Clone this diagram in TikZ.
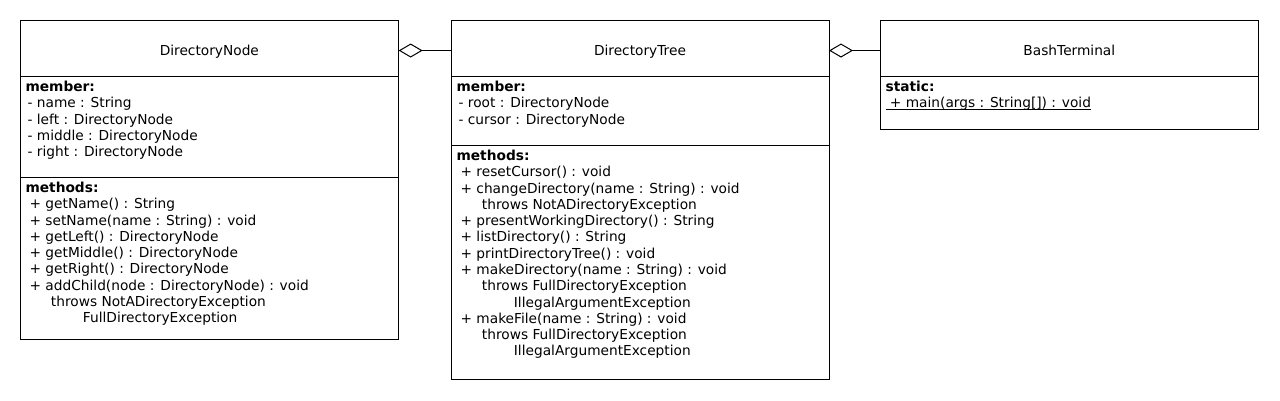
\documentclass[tikz,border=0pt]{standalone}
\usepackage{fontspec}
\setmainfont{DejaVu Sans}
\usetikzlibrary{positioning, arrows.meta}

\tikzset{
  cls/.style={draw, line width=0.75pt, inner sep=0pt, outer sep=0pt,
              minimum width=#1},
  cls/.default=284pt,
  listtxt/.style={inner sep=0pt, anchor=north west, align=left,
                  font=\fontsize{10.3}{12.2}\selectfont},
  titletxt/.style={font=\fontsize{10.3}{12}\selectfont,
                   text height=10.5pt, text depth=0pt},
  aggr/.style={line width=0.75pt,
               -{Diamond[open, length=18pt, width=10.5pt, line width=0.75pt]}}
}
\newcommand{\ind}[1]{\hspace*{#1pt}}
\newcommand{\statul}[1]{\setbox0\hbox{#1}\rlap{\rule[-1.4pt]{\wd0}{0.5pt}}\box0}

\begin{document}
\begin{tikzpicture}[x=0.75pt, y=-0.75pt]
\useasboundingbox (0,0) rectangle (1280,400);

% DirectoryNode
\node[cls, minimum height=42pt, anchor=north west, titletxt] (nodetitle) at (20,20) {DirectoryNode};
\node[cls, minimum height=75.75pt, anchor=north west] (nodemem) at (nodetitle.south west) {};
\node[cls, minimum height=121.5pt, anchor=north west] (nodemeth) at (nodemem.south west) {};
\node[listtxt] (nodememtxt) at ([xshift=4pt, yshift=-3.7pt]nodemem.north west)
  {\textbf{member:}\\
   \ind{1.5}- name : String\\
   \ind{1.5}- left : DirectoryNode\\
   \ind{1.5}- middle : DirectoryNode\\
   \ind{1.5}- right : DirectoryNode};
\node[listtxt] (nodemethtxt) at ([xshift=4pt, yshift=-3.7pt]nodemeth.north west)
  {\textbf{methods:}\\
   \ind{3}+ getName() : String\\
   \ind{3}+ setName(name : String) : void\\
   \ind{3}+ getLeft() : DirectoryNode\\
   \ind{3}+ getMiddle() : DirectoryNode\\
   \ind{3}+ getRight() : DirectoryNode\\
   \ind{3}+ addChild(node : DirectoryNode) : void\\
   \ind{19}throws NotADirectoryException\\
   \ind{43}FullDirectoryException};

% DirectoryTree
\node[cls=283.5pt, minimum height=42pt, anchor=north west, titletxt] (treetitle) at (451,20) {DirectoryTree};
\node[cls=283.5pt, minimum height=51.75pt, anchor=north west] (treemem) at (treetitle.south west) {};
\node[cls=283.5pt, minimum height=175.5pt, anchor=north west] (treemeth) at (treemem.south west) {};
\node[listtxt] (treememtxt) at ([xshift=4pt, yshift=-3.7pt]treemem.north west)
  {\textbf{member:}\\
   \ind{1.5}- root : DirectoryNode\\
   \ind{1.5}- cursor : DirectoryNode};
\node[listtxt] (treemethtxt) at ([xshift=4pt, yshift=-3.7pt]treemeth.north west)
  {\textbf{methods:}\\
   \ind{3}+ resetCursor() : void\\
   \ind{3}+ changeDirectory(name : String) : void\\
   \ind{19}throws NotADirectoryException\\
   \ind{3}+ presentWorkingDirectory() : String\\
   \ind{3}+ listDirectory() : String\\
   \ind{3}+ printDirectoryTree() : void\\
   \ind{3}+ makeDirectory(name : String) : void\\
   \ind{19}throws FullDirectoryException\\
   \ind{43}IllegalArgumentException\\
   \ind{3}+ makeFile(name : String) : void\\
   \ind{19}throws FullDirectoryException\\
   \ind{43}IllegalArgumentException};

% BashTerminal
\node[cls, minimum height=42pt, anchor=north west, titletxt] (bashtitle) at (880,20) {BashTerminal};
\node[cls, minimum height=39.75pt, anchor=north west] (bashstat) at (bashtitle.south west) {};
\node[listtxt] (bashstattxt) at ([xshift=4pt, yshift=-3.7pt]bashstat.north west)
  {\textbf{static:}\\
   \statul{\ + main(args : String[]) : void}};

% aggregations
\draw[aggr] ([yshift=-1.9pt]treetitle.west) -- ([yshift=-1.9pt]nodetitle.east);
\draw[aggr] ([yshift=-1.9pt]bashtitle.west) -- ([yshift=-1.9pt]treetitle.east);
\end{tikzpicture}
\end{document}
